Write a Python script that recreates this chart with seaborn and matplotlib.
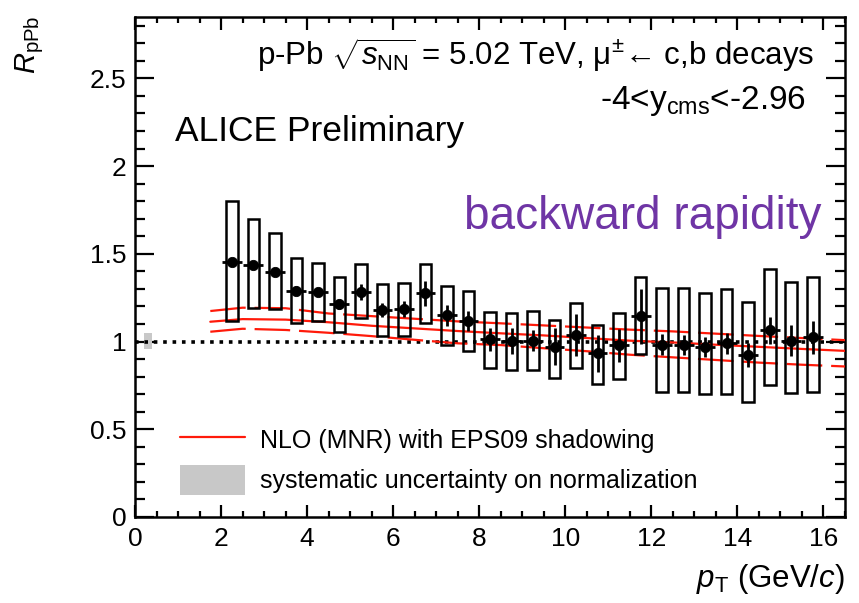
import numpy as np
import pandas as pd
import matplotlib
matplotlib.use("Agg")
import matplotlib.pyplot as plt
import seaborn as sns
from matplotlib.ticker import MultipleLocator
from matplotlib.patches import Rectangle
from matplotlib.lines import Line2D

# ---------------- data ----------------
pt = [2.25, 2.75, 3.25, 3.75, 4.25, 4.75, 5.25, 5.75, 6.25, 6.75, 7.25, 7.75,
      8.25, 8.75, 9.25, 9.75, 10.25, 10.75, 11.25, 11.75, 12.25, 12.75, 13.25,
      13.75, 14.25, 14.75, 15.25, 15.75]
rppb = [1.455, 1.438, 1.398, 1.29, 1.282, 1.215, 1.284, 1.18, 1.186, 1.274, 1.151,
        1.116, 1.012, 1.005, 1.005, 0.97, 1.037, 0.933, 0.978, 1.145, 0.982,
        0.982, 0.97, 0.99, 0.923, 1.064, 1.005, 1.025]
stat = [0.02, 0.02, 0.02, 0.025, 0.025, 0.03, 0.045, 0.04, 0.047, 0.07, 0.06,
        0.057, 0.066, 0.074, 0.06, 0.105, 0.12, 0.105, 0.095, 0.157, 0.06,
        0.057, 0.057, 0.06, 0.07, 0.076, 0.09, 0.095]
syst_hi = [1.80, 1.696, 1.62, 1.474, 1.449, 1.366, 1.442, 1.326, 1.335, 1.442,
           1.316, 1.288, 1.17, 1.164, 1.176, 1.122, 1.217, 1.094, 1.16, 1.366,
           1.303, 1.307, 1.278, 1.297, 1.223, 1.413, 1.341, 1.366]
syst_lo = [1.115, 1.189, 1.185, 1.107, 1.119, 1.056, 1.136, 1.031, 1.031, 1.107,
           0.98, 0.948, 0.851, 0.838, 0.838, 0.794, 0.847, 0.758, 0.785, 0.927,
           0.714, 0.714, 0.699, 0.70, 0.657, 0.752, 0.708, 0.714]

model_pt = [1.75, 2.5, 3.5, 4.5, 5.5, 6.5, 7.5, 8.5, 9.5, 10.5, 11.5, 12.5,
            13.5, 14.5, 15.5, 16.5]
model_central = [1.113, 1.128, 1.125, 1.11, 1.09, 1.075, 1.06, 1.047, 1.035,
                 1.02, 1.005, 0.995, 0.982, 0.97, 0.958, 0.947]
model_upper = [1.174, 1.193, 1.19, 1.16, 1.145, 1.13, 1.115, 1.104, 1.092,
               1.08, 1.068, 1.058, 1.045, 1.032, 1.02, 1.008]
model_lower = [1.056, 1.073, 1.066, 1.05, 1.031, 1.01, 0.99, 0.98, 0.962,
               0.945, 0.925, 0.91, 0.895, 0.88, 0.868, 0.858]

norm_x = [0.2, 0.4]
norm_y = [0.955, 1.048]

# ---------------- style ----------------
sns.set_theme(style="ticks")
plt.rcParams['font.family'] = ['Liberation Sans', 'DejaVu Sans']
plt.rcParams['mathtext.fontset'] = 'custom'
plt.rcParams['mathtext.rm'] = 'Liberation Sans'
plt.rcParams['mathtext.it'] = 'Liberation Sans:italic'
plt.rcParams['mathtext.sf'] = 'Liberation Sans'
for k in ['text.color', 'axes.labelcolor', 'xtick.color', 'ytick.color',
          'axes.edgecolor']:
    plt.rcParams[k] = 'black'

fig = plt.figure(figsize=(8.59, 6.03), dpi=100)
ax = fig.add_axes([135/859, 1-517/603, (845-135)/859, (517-17)/603])

df = pd.DataFrame({'pt': pt, 'rppb': rppb, 'stat': stat,
                   'hi': syst_hi, 'lo': syst_lo})
dm = pd.DataFrame({'pt': model_pt, 'c': model_central,
                   'u': model_upper, 'l': model_lower})

# normalization box
ax.add_patch(Rectangle((norm_x[0], norm_y[0]), norm_x[1]-norm_x[0],
                       norm_y[1]-norm_y[0], facecolor='#c8c8c8',
                       edgecolor='none', zorder=1))

# unity line
ax.axhline(1.0, color='black', lw=2.6, linestyle=(0, (1.0, 1.6)), zorder=2)

# model curves
red = '#ff1a0a'
sns.lineplot(data=dm, x='pt', y='c', color=red, lw=1.6, ax=ax, zorder=3)
sns.lineplot(data=dm, x='pt', y='u', color=red, lw=1.6, ax=ax, zorder=3,
             linestyle=(0, (16, 4)))
sns.lineplot(data=dm, x='pt', y='l', color=red, lw=1.6, ax=ax, zorder=3,
             linestyle=(0, (16, 4)))

# systematic boxes
ax.bar(df['pt'], df['hi'] - df['lo'], bottom=df['lo'], width=0.27,
       fill=False, edgecolor='black', linewidth=1.8, zorder=4)

# stat errors
ax.errorbar(df['pt'], df['rppb'], yerr=df['stat'], xerr=0.23, fmt='none',
            ecolor='black', elinewidth=2.0, capsize=0, zorder=5)
sns.scatterplot(data=df, x='pt', y='rppb', color='black', s=55,
                edgecolor='black', ax=ax, zorder=6)

# axes
ax.set_xlim(0, 16.5)
ax.set_ylim(0, 2.85)
ax.set_xlabel('')
ax.set_ylabel('')
ax.xaxis.set_major_locator(MultipleLocator(2))
ax.xaxis.set_minor_locator(MultipleLocator(0.5))
ax.yaxis.set_major_locator(MultipleLocator(0.5))
ax.yaxis.set_minor_locator(MultipleLocator(0.1))
ax.set_yticks([0, 0.5, 1, 1.5, 2, 2.5])
ax.set_yticklabels(['0', '0.5', '1', '1.5', '2', '2.5'])
ax.tick_params(axis='both', which='both', direction='in', top=True,
               right=True, width=1.6, labelsize=19, colors='black')
ax.tick_params(axis='x', which='major', length=9, pad=7)
ax.tick_params(axis='x', which='minor', length=4.5)
ax.tick_params(axis='y', which='major', length=14, pad=6)
ax.tick_params(axis='y', which='minor', length=7)
for s in ax.spines.values():
    s.set_linewidth(1.8)
    s.set_color('black')

# texts
fig.text(0.035, 0.975, r'$R_{\rm pPb}$', rotation=90, ha='center', va='top',
         fontsize=21)
fig.text(0.983, 0.04, r'$p_{\rm T}$ (GeV/$c$)', ha='right', va='center',
         fontsize=22.5)

ax.text(15.78, 2.63, r'p-Pb $\sqrt{s_{\rm NN}}$ = 5.02 TeV, μ$^{\pm}$← c,b decays',
        ha='right', va='center', fontsize=22.5)
ax.text(15.6, 2.37, r'-4<y$_{\rm cms}$<-2.96', ha='right', va='center',
        fontsize=24)
ax.text(0.93, 2.2, 'ALICE Preliminary', ha='left', va='center', fontsize=25.5)
ax.text(15.95, 1.71, 'backward rapidity', ha='right', va='center',
        fontsize=33, color='#6f35a5')

# legend
leg_handles = [Line2D([], [], color=red, lw=1.6),
               Rectangle((0, 0), 1, 1, facecolor='#c8c8c8', edgecolor='none')]
leg = ax.legend(leg_handles, ['NLO (MNR) with EPS09 shadowing',
                              'systematic uncertainty on normalization'],
                loc='lower left', bbox_to_anchor=(0.032, 0.0), frameon=False,
                fontsize=18, handlelength=2.6, handleheight=1.45,
                labelspacing=0.4, handletextpad=0.6)

fig.savefig('out.png', dpi=100)
